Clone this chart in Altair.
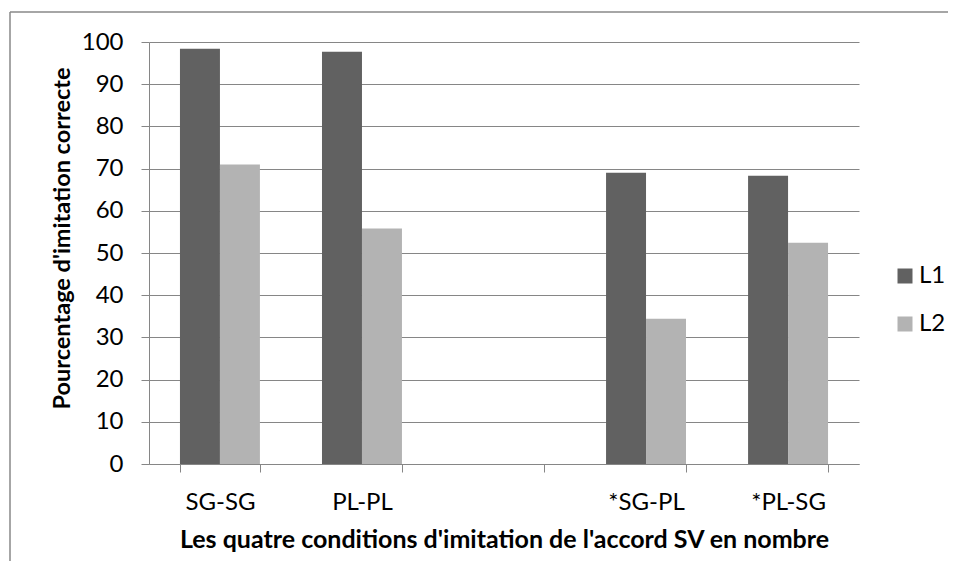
import altair as alt
import pandas as pd

categories = ["SG-SG", "PL-PL", " ", "*SG-PL", "*PL-SG"]
series = ["L1", "L2"]
l1_values = [98.4, 97.7, None, 69.0, 68.3]
l2_values = [71.0, 55.8, None, 34.4, 52.4]
y_ticks = [0, 10, 20, 30, 40, 50, 60, 70, 80, 90, 100]
colors = ["#616161", "#b3b3b3"]

rows = []
for c, a, b in zip(categories, l1_values, l2_values):
    if a is not None:
        rows.append({"cond": c, "serie": "L1", "val": a})
    if b is not None:
        rows.append({"cond": c, "serie": "L2", "val": b})
df = pd.DataFrame(rows)

FONT = "Lato"
W, H = 710, 422

bars = alt.Chart(df).mark_bar().encode(
    x=alt.X("cond:N", sort=categories,
            scale=alt.Scale(domain=categories, paddingInner=0.437, paddingOuter=0.218),
            axis=alt.Axis(title="Les quatre conditions d'imitation de l'accord SV en nombre",
                          labelAngle=0, tickBand="extent", grid=False,
                          domainColor="#868686", tickColor="#868686", tickSize=8,
                          labelPadding=18, titlePadding=13,
                          labelFontSize=24, titleFontSize=25)),
    xOffset=alt.XOffset("serie:N", sort=series,
                        scale=alt.Scale(domain=series, paddingInner=0, paddingOuter=0)),
    y=alt.Y("val:Q", scale=alt.Scale(domain=[0, 100], nice=False),
            axis=alt.Axis(title="Pourcentage d'imitation correcte", values=y_ticks,
                          grid=True, gridColor="#868686", gridWidth=1,
                          domainColor="#868686", tickColor="#868686", tickSize=8,
                          labelPadding=18, labelFontSize=24, titleFontSize=23.5,
                          titleX=-87, titleY=196, titleBaseline="middle")),
    color=alt.Color("serie:N", sort=series,
                    scale=alt.Scale(domain=series, range=colors),
                    legend=alt.Legend(title=None, orient="none", legendX=744, legendY=222,
                                      symbolType="square", symbolSize=225,
                                      symbolStrokeWidth=0, labelFontSize=24,
                                      rowPadding=24, labelOffset=2)),
)

top_line = alt.Chart(alt.Data(values=[{}])).mark_rule(
    stroke="#898989", strokeWidth=1.5
).encode(x=alt.value(-139), x2=alt.value(799), y=alt.value(-30), y2=alt.value(-30))

left_line = alt.Chart(alt.Data(values=[{}])).mark_rule(
    stroke="#898989", strokeWidth=1.5
).encode(x=alt.value(-139), x2=alt.value(-139), y=alt.value(-30), y2=alt.value(519))

chart = alt.layer(top_line, left_line, bars).properties(
    width=W, height=H,
    padding={"left": 141, "top": 34, "right": 90, "bottom": 98},
    autosize=alt.AutoSizeParams(type="none"),
).configure(
    font=FONT,
).configure_axis(
    labelColor="black", titleColor="black", labelFont=FONT, titleFont=FONT,
    titleFontWeight="bold",
).configure_legend(
    labelColor="black", labelFont=FONT,
).configure_view(stroke=None)

chart.save("out.html", embed_options={"renderer": "svg", "actions": False})
